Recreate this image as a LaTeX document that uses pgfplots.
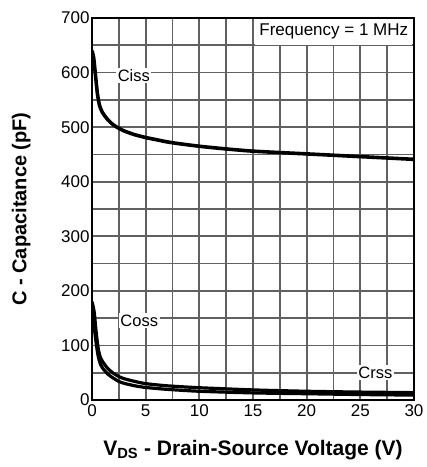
\documentclass[border=0pt]{standalone}
\usepackage{pgfplots}
\pgfplotsset{compat=1.18}
\usepackage{fontspec}
\setmainfont{Liberation Sans}
\begin{document}
\begin{tikzpicture}
\useasboundingbox (-92pt,-67pt) rectangle (335pt,400pt);
\begin{axis}[
  scale only axis, width=322pt, height=382pt,
  xmin=0, xmax=30, ymin=0, ymax=700,
  xtick={0,5,10,15,20,25,30},
  minor xtick={2.5,7.5,12.5,17.5,22.5,27.5},
  ytick={0,100,200,300,400,500,600,700},
  minor ytick={50,150,250,350,450,550,650},
  xmajorgrids, ymajorgrids, xminorgrids, yminorgrids,
  every major grid/.style={draw=black!62, line width=1.7pt},
  every minor grid/.style={draw=black!62, line width=1.7pt},
  tick style={draw=black!62, line width=1.7pt},
  major tick length=3pt, minor tick length=3pt,
  axis line style={line width=1.5pt},
  /pgf/number format/assume math mode=true,
  ticklabel style={font=\fontsize{17}{19}\selectfont},
  xticklabel style={yshift=-1pt},
  yticklabel style={xshift=1pt},
  xlabel={\bfseries V\textsubscript{DS} - Drain-Source Voltage (V)},
  ylabel={\bfseries C - Capacitance (pF)},
  xlabel style={font=\fontsize{21}{23}\selectfont, at={(axis description cs:0.5,0)}, anchor=base, yshift=-55pt},
  ylabel style={font=\fontsize{20}{22}\selectfont, at={(axis description cs:-0.22,0.5)}, anchor=center},
  clip=true,
]
% input capacitance
\addplot[black, line width=3.6pt, smooth, tension=0.4] coordinates {
 (0,640) (0.15,628) (0.3,600) (0.5,562) (0.7,540) (1,526) (1.5,513) (2,504)
 (2.5,498) (3,493) (4,486) (5,481) (6,477) (7,473) (8,470) (10,465)
 (12,461) (15,456) (20,451) (25,446) (30,441)};
% output capacitance
\addplot[black, line width=3.2pt, smooth, tension=0.4] coordinates {
 (0,180) (0.2,162) (0.4,122) (0.6,92) (0.8,77) (1,70) (1.5,57) (2,49)
 (2.5,43) (3,39) (4,34) (5,30) (7,26) (10,22.5) (15,18.5) (20,16) (25,14.5) (30,13.5)};
% reverse transfer capacitance
\addplot[black, line width=3.2pt, smooth, tension=0.4] coordinates {
 (0,155) (0.2,134) (0.4,102) (0.6,78) (0.8,65) (1,58) (1.5,47) (2,40)
 (2.5,34) (3,30.5) (4,26) (5,23) (7,19.5) (10,16) (15,13) (20,11.5) (25,10) (30,9)};
\node[fill=white, inner sep=1.5pt, font=\fontsize{16.5}{18}\selectfont] at (axis cs:3.9,595) {Ciss};
\node[fill=white, inner sep=1.5pt, font=\fontsize{16.5}{18}\selectfont] at (axis cs:4.4,146) {Coss};
\node[fill=white, inner sep=1.5pt, font=\fontsize{16.5}{18}\selectfont] at (axis cs:26.4,50) {Crss};
\node[fill=white, anchor=north east, inner xsep=4pt, inner ysep=5pt, font=\fontsize{17}{19}\selectfont] at (axis cs:29.85,698) {Frequency = 1 MHz};
\end{axis}
\end{tikzpicture}
\end{document}
